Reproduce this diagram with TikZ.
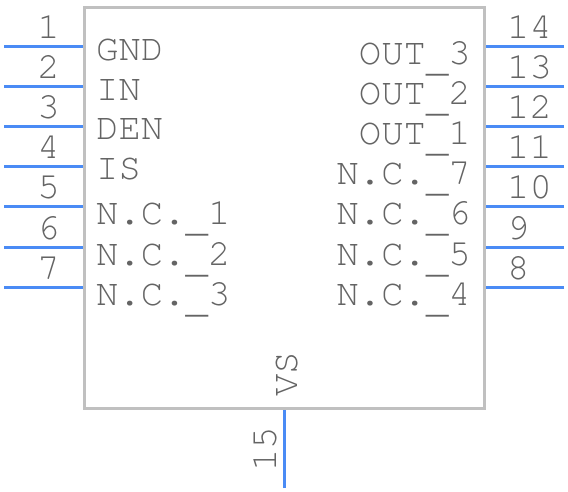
\documentclass[tikz,border=0pt]{standalone}
\usepackage{fontspec}
\newfontfamily\pinfont{texgyrecursor-regular.otf}
\newcommand{\lowbar}{\raisebox{-7pt}{\_}}
\usetikzlibrary{positioning}
\definecolor{pinblue}{RGB}{74,139,245}
\definecolor{bodygray}{RGB}{192,192,192}
\definecolor{textgray}{RGB}{100,100,100}

\begin{document}
\begin{tikzpicture}[x=1pt,y=-1pt,
    pin/.style={draw=pinblue,line width=3pt},
    lbl/.style={inner sep=0pt,text=textgray,font=\pinfont\fontsize{37.3}{40}\selectfont}]
  \useasboundingbox (0,0) rectangle (568,492);
  % body
  \node[draw=bodygray,line width=3pt,minimum width=400pt,minimum height=400pt,inner sep=0pt] (ic) at (284,208) {};
  % pin ends
  \coordinate (p1) at (4,47);
  \coordinate (p2) at (4,87);
  \coordinate (p3) at (4,127);
  \coordinate (p4) at (4,167);
  \coordinate (p5) at (4,207);
  \coordinate (p6) at (4,247);
  \coordinate (p7) at (4,287);
  \coordinate (p14) at (564,47);
  \coordinate (p13) at (564,87);
  \coordinate (p12) at (564,127);
  \coordinate (p11) at (564,167);
  \coordinate (p10) at (564,207);
  \coordinate (p9) at (564,247);
  \coordinate (p8) at (564,287);
  \coordinate (p15) at (284,488);
  \draw[pin] (p1) -- (p1 -| ic.west);
  \draw[pin] (p2) -- (p2 -| ic.west);
  \draw[pin] (p3) -- (p3 -| ic.west);
  \draw[pin] (p4) -- (p4 -| ic.west);
  \draw[pin] (p5) -- (p5 -| ic.west);
  \draw[pin] (p6) -- (p6 -| ic.west);
  \draw[pin] (p7) -- (p7 -| ic.west);
  \draw[pin] (p14) -- (p14 -| ic.east);
  \draw[pin] (p13) -- (p13 -| ic.east);
  \draw[pin] (p12) -- (p12 -| ic.east);
  \draw[pin] (p11) -- (p11 -| ic.east);
  \draw[pin] (p10) -- (p10 -| ic.east);
  \draw[pin] (p9) -- (p9 -| ic.east);
  \draw[pin] (p8) -- (p8 -| ic.east);
  \draw[pin] (p15) -- (p15 |- ic.south);
  % pin numbers
  \node[lbl,anchor=base east] (n1) at (60,39) {1};
  \node[lbl,anchor=base east] (n2) at (60,79) {2};
  \node[lbl,anchor=base east] (n3) at (60,119) {3};
  \node[lbl,anchor=base east] (n4) at (60,159) {4};
  \node[lbl,anchor=base east] (n5) at (60,199) {5};
  \node[lbl,anchor=base east] (n6) at (60,239) {6};
  \node[lbl,anchor=base east] (n7) at (60,279) {7};
  \node[lbl,anchor=base west] (n14) at (507,39) {14};
  \node[lbl,anchor=base west] (n13) at (507,79) {13};
  \node[lbl,anchor=base west] (n12) at (507,119) {12};
  \node[lbl,anchor=base west] (n11) at (507,159) {11};
  \node[lbl,anchor=base west] (n10) at (507,199) {10};
  \node[lbl,anchor=base west] (n9) at (507,239) {9};
  \node[lbl,anchor=base west] (n8) at (507,279) {8};
  \node[lbl,rotate=90,anchor=base west] (n15) at (276,472) {15};
  % pin names
  \node[lbl,anchor=base west] (gnd) at (96,61) {GND};
  \node[lbl,anchor=base west] (in) at (96,101) {IN};
  \node[lbl,anchor=base west] (den) at (96,140) {DEN};
  \node[lbl,anchor=base west] (is) at (96,180) {IS};
  \node[lbl,anchor=base west] (nc1) at (96,225) {N.C.\lowbar1};
  \node[lbl,anchor=base west] (nc2) at (96,265) {N.C.\lowbar2};
  \node[lbl,anchor=base west] (nc3) at (96,305) {N.C.\lowbar3};
  \node[lbl,anchor=base east] (out3) at (471,65) {OUT\lowbar3};
  \node[lbl,anchor=base east] (out2) at (471,105) {OUT\lowbar2};
  \node[lbl,anchor=base east] (out1) at (471,145) {OUT\lowbar1};
  \node[lbl,anchor=base east] (nc7) at (471,185) {N.C.\lowbar7};
  \node[lbl,anchor=base east] (nc6) at (471,225) {N.C.\lowbar6};
  \node[lbl,anchor=base east] (nc5) at (471,265) {N.C.\lowbar5};
  \node[lbl,anchor=base east] (nc4) at (471,305) {N.C.\lowbar4};
  \node[lbl,rotate=90,anchor=base west] (vs) at (297,397) {VS};
\end{tikzpicture}
\end{document}
